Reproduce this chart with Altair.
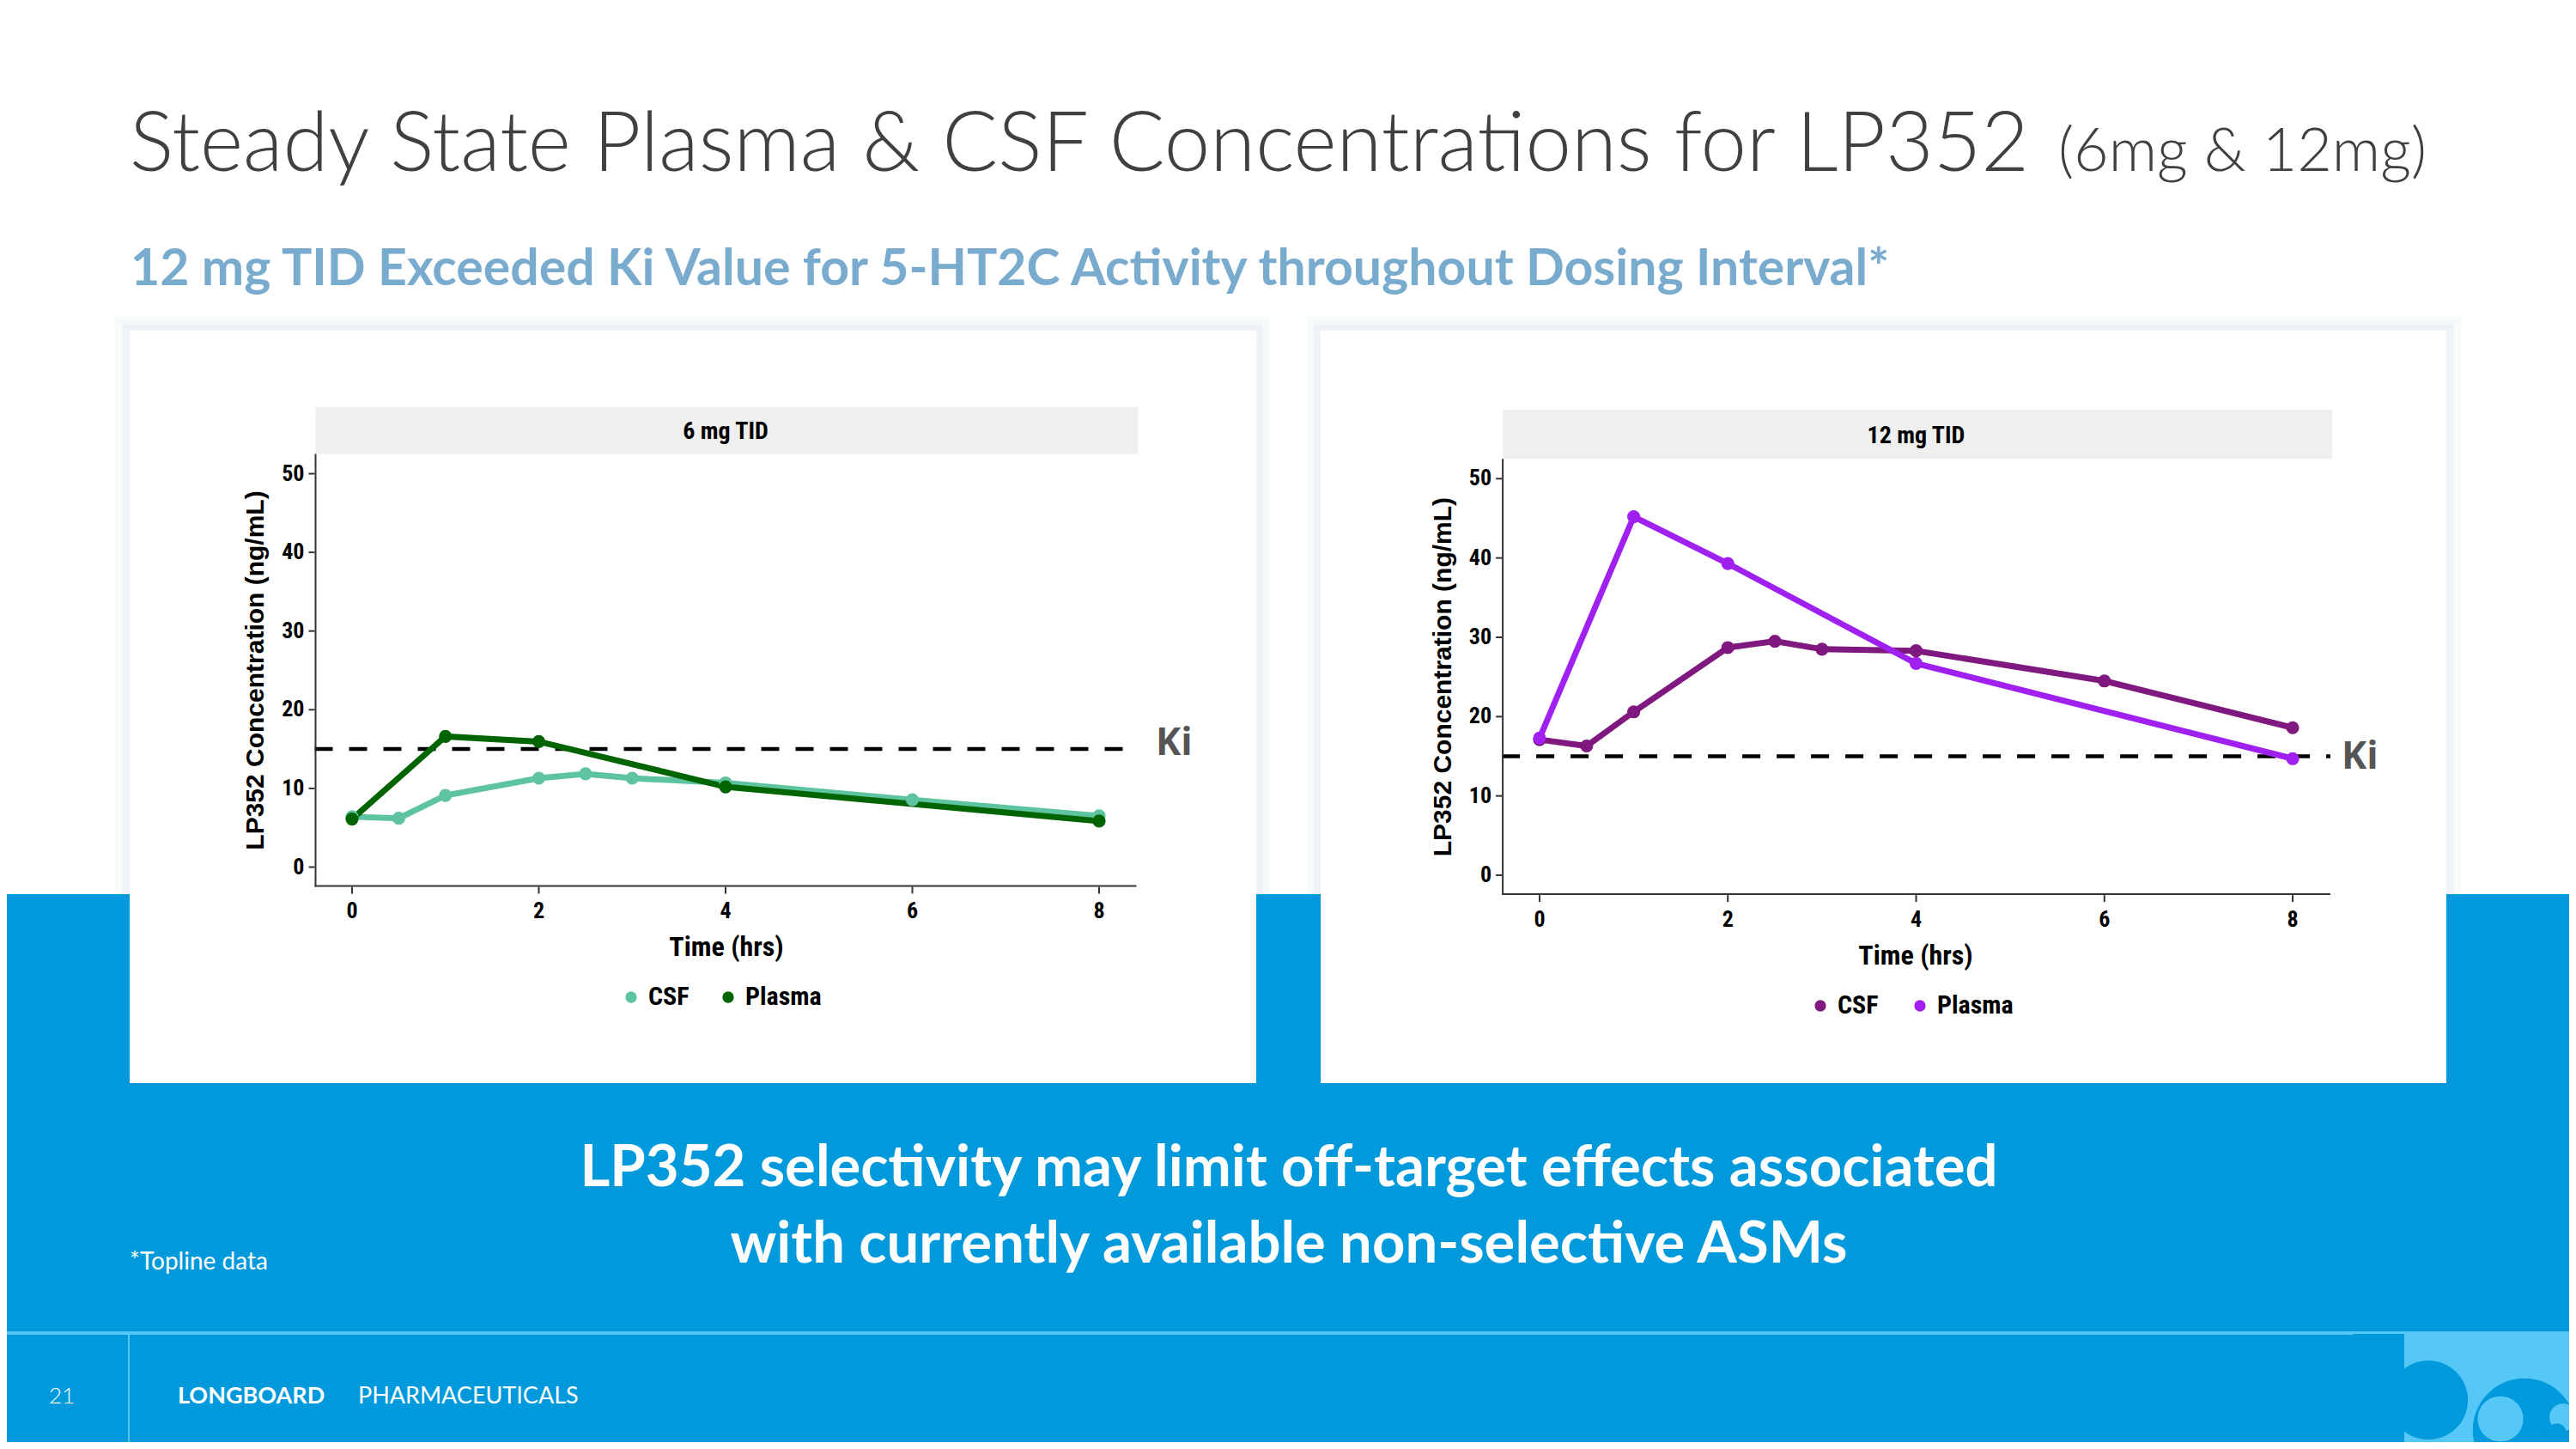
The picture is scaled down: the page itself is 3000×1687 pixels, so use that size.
import altair as alt
import pandas as pd

# ---------------- data ----------------
hours_csf = [0, 0.5, 1, 2, 2.5, 3, 4, 6, 8]
hours_plasma = [0, 1, 2, 4, 8]
csf_6mg = [6.4, 6.2, 9.1, 11.3, 11.85, 11.3, 10.7, 8.55, 6.5]
plasma_6mg = [6.1, 16.6, 15.95, 10.2, 5.85]
csf_12mg = [17.1, 16.3, 20.6, 28.7, 29.5, 28.5, 28.3, 24.5, 18.6]
plasma_12mg = [17.3, 45.2, 39.3, 26.7, 14.7]
ki_value = [15]
x_ticks = [0, 2, 4, 6, 8]
y_ticks = [0, 10, 20, 30, 40, 50]
series_names = ["CSF", "Plasma"]
panel_titles = ["6 mg TID", "12 mg TID"]
x_title = ["Time (hrs)"]
y_title = ["LP352 Concentration (ng/mL)"]
ki_label = ["Ki"]
slide_title = ["Steady State Plasma & CSF Concentrations for LP352", "(6mg & 12mg)"]
slide_subtitle = ["12 mg TID Exceeded Ki Value for 5-HT2C Activity throughout Dosing Interval*"]
message = ["LP352 selectivity may limit off-target effects associated",
           "with currently available non-selective ASMs"]
footnote = ["*Topline data"]
footer = ["21", "LONGBOARD", "PHARMACEUTICALS"]

# ---------------- layout (page pixels) ----------------
W, H = 2984, 1671
OFF = 8


def P(v):
    return v - OFF


NARROW = "Liberation Sans Narrow, Roboto Condensed, DejaVu Sans Condensed, Arial Narrow, sans-serif"
ARIAL = "Liberation Sans, Arial, sans-serif"
GOTHIC = "Lato, Open Sans, sans-serif"
BLUE = "#0099DC"
LIGHT = "#55C8F8"


def one(**cols):
    return pd.DataFrame({k: [v] for k, v in cols.items()})


def text_at(txt, x, y, size, font, weight="normal", color="black", align="left",
            baseline="alphabetic", angle=0):
    return alt.Chart(one(s=txt)).mark_text(
        font=font, fontSize=size, fontWeight=weight, color=color, align=align,
        baseline=baseline, angle=angle,
    ).encode(x=alt.value(P(x)), y=alt.value(P(y)), text="s:N")


def box(x0, x1, y0, y1, color, opacity=1.0):
    return alt.Chart(one(k=0)).mark_rect(color=color, opacity=opacity).encode(
        x=alt.value(P(x0)), x2=alt.value(P(x1)), y=alt.value(P(y0)), y2=alt.value(P(y1))
    )


def dot(cx, cy, r, color):
    return alt.Chart(one(k=0)).mark_circle(color=color, opacity=1, size=3.14159 * r * r).encode(
        x=alt.value(P(cx)), y=alt.value(P(cy))
    )


def panel(title, t_csf, csf, t_pl, pl, c_csf, c_pl, g):
    xs = alt.Scale(domain=[-0.4, 8.4], range=[P(g["x0"]), P(g["x1"])], nice=False, zero=False)
    ys = alt.Scale(domain=[-2.5, 52.5], range=[P(g["yb"]), P(g["yt"])], nice=False, zero=False)

    def X(f):
        return alt.X(f, type="quantitative", scale=xs, axis=None)

    def Y(f):
        return alt.Y(f, type="quantitative", scale=ys, axis=None)

    df_csf = pd.DataFrame({"t": t_csf, "v": csf})
    df_pl = pd.DataFrame({"t": t_pl, "v": pl})
    df_xt = pd.DataFrame({"t": x_ticks, "lab": [str(v) for v in x_ticks]})
    df_yt = pd.DataFrame({"v": y_ticks, "lab": [str(v) for v in y_ticks]})

    layers = []
    # strip
    layers.append(box(g["x0"] + 1, g["x1"] + 2, g["s0"], g["yt"], "#EFEFEF"))
    layers.append(text_at(title, (g["x0"] + g["x1"]) / 2, g["s_txt"], 28, NARROW, "bold",
                          "black", "center", "middle"))
    # Ki line
    layers.append(alt.Chart(pd.DataFrame({"v": ki_value})).mark_rule(
        color="black", strokeWidth=4.5, strokeDash=[21, 19]).encode(
        x=alt.value(P(g["x0"])), x2=alt.value(P(g["x1"])), y=Y("v")))
    # lines
    layers.append(alt.Chart(df_csf).mark_line(color=c_csf, strokeWidth=7).encode(x=X("t"), y=Y("v")))
    layers.append(alt.Chart(df_pl).mark_line(color=c_pl, strokeWidth=7).encode(x=X("t"), y=Y("v")))
    layers.append(alt.Chart(df_csf).mark_circle(color=c_csf, size=230, opacity=1).encode(x=X("t"), y=Y("v")))
    layers.append(alt.Chart(df_pl).mark_circle(color=c_pl, size=230, opacity=1).encode(x=X("t"), y=Y("v")))
    # axis lines
    layers.append(alt.Chart(one(k=0)).mark_rule(color="#333333", strokeWidth=2).encode(
        x=alt.value(P(g["x0"] + 1)), y=alt.value(P(g["yt"])), y2=alt.value(P(g["yb"]))))
    layers.append(alt.Chart(one(k=0)).mark_rule(color="#333333", strokeWidth=2).encode(
        x=alt.value(P(g["x0"])), x2=alt.value(P(g["x1"])), y=alt.value(P(g["yb"] - 1))))
    # ticks
    layers.append(alt.Chart(df_xt).mark_rule(color="#333333", strokeWidth=2).encode(
        x=X("t"), y=alt.value(P(g["yb"])), y2=alt.value(P(g["yb"] + 8))))
    layers.append(alt.Chart(df_yt).mark_rule(color="#333333", strokeWidth=2).encode(
        y=Y("v"), x=alt.value(P(g["x0"] - 7)), x2=alt.value(P(g["x0"]))))
    # tick labels
    layers.append(alt.Chart(df_xt).mark_text(font=NARROW, fontSize=26, fontWeight="bold",
                                             baseline="middle", align="center", color="black").encode(
        x=X("t"), y=alt.value(P(g["yb"] + 29)), text="lab:N"))
    layers.append(alt.Chart(df_yt).mark_text(font=NARROW, fontSize=26, fontWeight="bold",
                                             baseline="middle", align="right", color="black").encode(
        y=Y("v"), x=alt.value(P(g["x0"] - 12)), text="lab:N"))
    # axis titles
    layers.append(text_at(x_title[0], g["xt_x"], g["xt_y"], 32, NARROW, "bold", "black",
                          "center", "middle"))
    layers.append(text_at(y_title[0], g["yt_x"], (g["yt"] + g["yb"]) / 2, 30, ARIAL, "bold",
                          "black", "center", "middle", 270))
    # legend
    layers.append(dot(g["lg1"], g["lg_y"], 7.5, c_csf))
    layers.append(dot(g["lg2"], g["lg_y"], 7.5, c_pl))
    layers.append(text_at(series_names[0], g["lg1"] + 20, g["lg_y"], 30, NARROW, "bold",
                          "black", "left", "middle"))
    layers.append(text_at(series_names[1], g["lg2"] + 20, g["lg_y"], 30, NARROW, "bold",
                          "black", "left", "middle"))
    # Ki label
    layers.append(text_at(ki_label[0], g["ki_x"], g["ki_y"], 44, "Open Sans, sans-serif", 700,
                          "#555555", "left", "middle"))
    return alt.layer(*layers)


geomA = dict(x0=366.5, x1=1323.5, yb=1032.4, yt=528.6, s0=474, s_txt=503,
             xt_x=846, xt_y=1103, yt_x=298, lg1=735, lg2=848, lg_y=1161, ki_x=1346, ki_y=866)
geomB = dict(x0=1749.1, x1=2713.9, yb=1042.1, yt=534.2, s0=477, s_txt=508,
             xt_x=2231, xt_y=1113, yt_x=1681, lg1=2120, lg2=2236, lg_y=1171, ki_x=2727, ki_y=882)

panelA = panel(panel_titles[0], hours_csf, csf_6mg, hours_plasma, plasma_6mg,
               "#5EC4A0", "#006400", geomA)
panelB = panel(panel_titles[1], hours_csf, csf_12mg, hours_plasma, plasma_12mg,
               "#80197F", "#A020F0", geomB)

# ---------------- slide decoration ----------------
cardA = (151, 1463, 385, 1261)
cardB = (1538, 2849, 385, 1261)
deco = []
for c in (cardA, cardB):
    deco.append(box(c[0] - 16, c[1] + 16, c[2] - 16, 1041, "#F7FAFB"))
    deco.append(box(c[0] - 8, c[1] + 8, c[2] - 8, 1041, "#EEF3F6"))
deco.append(box(0, 3000, 1041, 1700, BLUE))
for c in (cardA, cardB):
    deco.append(box(c[0], c[1], c[2], c[3], "white"))

# footer line and separator
deco.append(alt.Chart(one(k=0)).mark_rule(color=LIGHT, strokeWidth=4).encode(
    x=alt.value(P(0)), x2=alt.value(P(3000)), y=alt.value(P(1552))))
deco.append(alt.Chart(one(k=0)).mark_rule(color=LIGHT, strokeWidth=2).encode(
    x=alt.value(P(150)), y=alt.value(P(1553)), y2=alt.value(P(1700))))

# wave logo (approximation)
deco.append(box(2790, 3000, 1553, 1700, LIGHT))
deco.append(dot(2828, 1630, 52, BLUE))
deco.append(box(2740, 2800, 1553, 1700, BLUE))
deco.append(dot(2940, 1665, 68, BLUE))
deco.append(dot(2912, 1652, 30, LIGHT))
deco.append(dot(2985, 1650, 18, LIGHT))
deco.append(dot(2978, 1668, 12, BLUE))

texts = [
    text_at(slide_title[0], 151, 199, 96, GOTHIC, 300, "#404040"),
    text_at(slide_title[1], 2397, 199, 70, GOTHIC, 300, "#404040"),
    text_at(slide_subtitle[0], 152, 332, 59, GOTHIC, "bold", "#79ABCF"),
    text_at(message[0], 1501, 1381, 67, GOTHIC, "bold", "white", "center"),
    text_at(message[1], 1501, 1470, 67, GOTHIC, "bold", "white", "center"),
    text_at(footnote[0], 151, 1478, 28, GOTHIC, "normal", "white"),
    text_at(footer[0], 57, 1634, 26, GOTHIC, 300, "white"),
    text_at(footer[1], 207, 1634, 27, GOTHIC, "bold", "white"),
    text_at(footer[2], 417, 1634, 27, GOTHIC, "normal", "white"),
]

chart = alt.layer(*deco, panelA, panelB, *texts).resolve_scale(
    x="independent", y="independent"
).properties(
    width=W, height=H, padding=0, background="white",
    autosize=alt.AutoSizeParams(type="none"),
).configure_view(stroke=None)

chart.save("out.html", embed_options={"renderer": "svg", "actions": False})
